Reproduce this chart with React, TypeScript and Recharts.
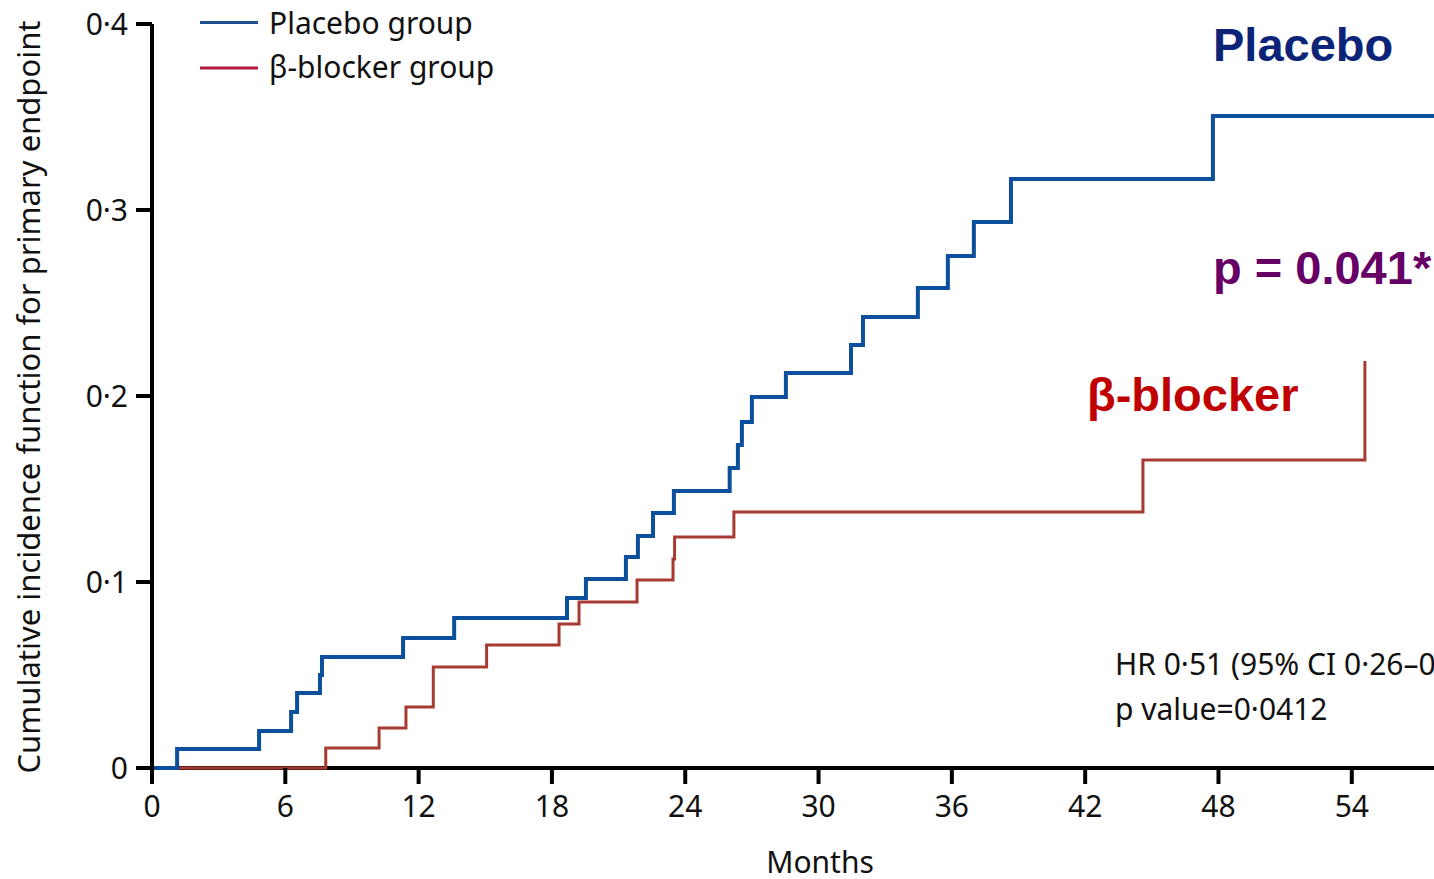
import React from 'react';
import { LineChart, Line, XAxis, YAxis, Legend, Customized, ReferenceLine } from 'recharts';

// Months at which each cumulative incidence step occurs, with the value after the step
const placeboMonths = [0, 1.13, 4.82, 6.26, 6.53, 7.56, 7.65, 11.3, 13.6, 18.68, 19.53, 21.33, 21.87, 22.55, 23.49, 26.0, 26.37, 26.55, 27.0, 28.53, 31.46, 32.0, 34.47, 35.82, 36.99, 38.66, 47.75, 57.7];
const placeboIncidence = [0, 0.0102, 0.0199, 0.0301, 0.0403, 0.05, 0.0597, 0.0699, 0.0806, 0.0914, 0.1016, 0.1134, 0.1247, 0.1371, 0.1489, 0.1613, 0.1737, 0.186, 0.1995, 0.2124, 0.2274, 0.2425, 0.2581, 0.2753, 0.2935, 0.3167, 0.3505, 0.3505];

const blockerMonths = [0, 7.82, 10.22, 11.43, 12.66, 15.06, 18.32, 19.22, 21.83, 23.45, 23.52, 26.19, 44.6, 54.59];
const blockerIncidence = [0, 0.0108, 0.0215, 0.0328, 0.0543, 0.0661, 0.0774, 0.0892, 0.1011, 0.1124, 0.1242, 0.1376, 0.1656, 0.2188];

const xTicks = [0, 6, 12, 18, 24, 30, 36, 42, 48, 54];
const yTicks = [0, 0.1, 0.2, 0.3, 0.4];
const yTickLabels = ['0', '0·1', '0·2', '0·3', '0·4'];

const seriesNames = ['Placebo group', 'β-blocker group'];

const placeboData = placeboMonths.map((t, i) => ({ t, v: placeboIncidence[i] }));
const blockerData = blockerMonths.map((t, i) => ({ t, v: blockerIncidence[i] }));

const FONT = '"Noto Sans", sans-serif';
const BOLD = '"Liberation Sans", Arial, sans-serif';

const LegendContent = () => (
  <svg width={520} height={95} style={{ display: 'block' }}>
    <line x1={200} x2={258} y1={22.5} y2={22.5} stroke="#1d4f8f" strokeWidth={3} />
    <text x={269} y={33.5} fontFamily={FONT} fontSize={30} fill="#111">{seriesNames[0]}</text>
    <line x1={200} x2={258} y1={68} y2={68} stroke="#b3193c" strokeWidth={3} />
    <text x={269} y={78} fontFamily={FONT} fontSize={30} fill="#111">{seriesNames[1]}</text>
  </svg>
);

const Annotations = () => (
  <g>
    <text x={28} y={397} transform="rotate(-90 28 397)" textAnchor="middle" dominantBaseline="central" fontFamily={FONT} fontSize={31} fill="#111">
      Cumulative incidence function for primary endpoint
    </text>
    <text x={820} y={873} textAnchor="middle" fontFamily={FONT} fontSize={30} fill="#111">Months</text>
    <text x={1213} y={61} fontFamily={BOLD} fontWeight="bold" fontSize={47} fill="#0b2478">Placebo</text>
    <text x={1213} y={284} fontFamily={BOLD} fontWeight="bold" fontSize={47} fill="#660066">p = 0.041*</text>
    <text x={1087} y={411} fontFamily={BOLD} fontWeight="bold" fontSize={47} fill="#c00000">β-blocker</text>
    <text x={1115} y={675} fontFamily={FONT} fontSize={30} fill="#111">HR 0·51 (95% CI 0·26–0·99)</text>
    <text x={1115} y={720} fontFamily={FONT} fontSize={30} fill="#111">p value=0·0412</text>
  </g>
);

export default function App() {
  return (
    <div style={{ position: 'absolute', left: 0, top: 0, width: 1434, height: 879, background: '#fff' }}>
      <LineChart width={1434} height={879} margin={{ top: 24, right: 0, bottom: 0, left: 0 }}>
        <XAxis
          dataKey="t"
          type="number"
          domain={[0, 57.7]}
          ticks={xTicks}
          allowDataOverflow
          height={111}
          axisLine={false}
          tickSize={16}
          tickMargin={12}
          tick={{ fill: '#111', fontSize: 30, fontFamily: FONT }}
          tickLine={{ stroke: '#000', strokeWidth: 4 }}
        />
        <YAxis
          dataKey="v"
          type="number"
          domain={[0, 0.4]}
          ticks={yTicks}
          width={152}
          stroke="#000"
          strokeWidth={4}
          tickSize={16}
          tickMargin={8}
          tickFormatter={(v: number) => yTickLabels[yTicks.indexOf(v)] ?? String(v)}
          tick={{ fill: '#111', fontSize: 30, fontFamily: FONT }}
          tickLine={{ stroke: '#000', strokeWidth: 4 }}
        />
        <ReferenceLine y={0} stroke="#000" strokeWidth={4} />
        <Legend
          layout="horizontal"
          verticalAlign="middle"
          align="center"
          content={<LegendContent />}
          wrapperStyle={{ position: 'absolute', top: 0, left: 0, width: 520, height: 95 }}
        />
        <Line
          data={blockerData}
          dataKey="v"
          name={seriesNames[1]}
          type="stepAfter"
          stroke="#a83b31"
          strokeWidth={3}
          dot={false}
          activeDot={false}
          isAnimationActive={false}
        />
        <Line
          data={placeboData}
          dataKey="v"
          name={seriesNames[0]}
          type="stepAfter"
          stroke="#0c4f9c"
          strokeWidth={4}
          dot={false}
          activeDot={false}
          isAnimationActive={false}
        />
        <Customized component={Annotations} />
      </LineChart>
    </div>
  );
}
